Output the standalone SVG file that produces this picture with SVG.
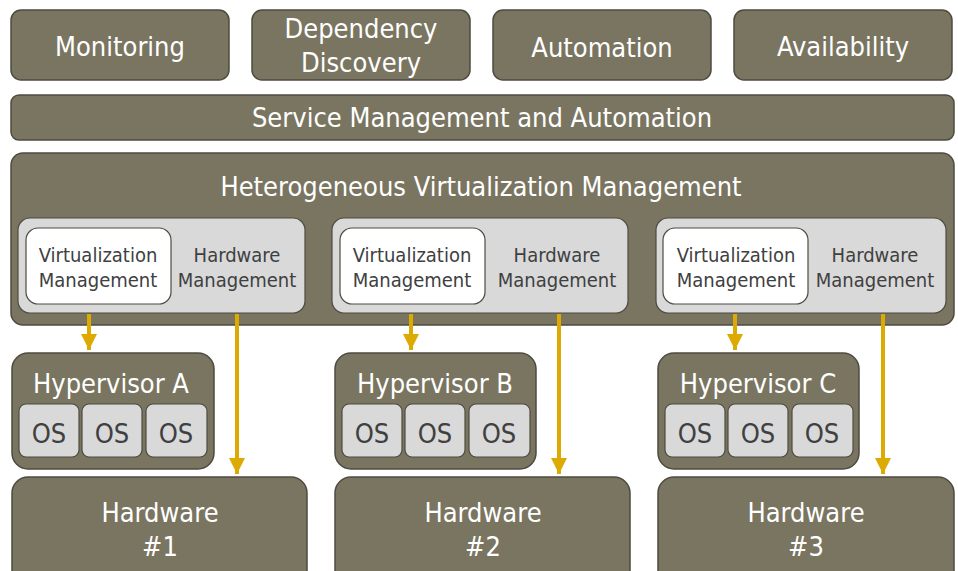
<svg xmlns="http://www.w3.org/2000/svg" width="958" height="571" viewBox="0 0 958 571">
<defs>
<style>
.box{fill:#7a7560;stroke:#4d4b40;stroke-width:1.5}
.grp{fill:#d9d9d9;stroke:#4d4b40;stroke-width:1.2}
.wht{fill:#ffffff;stroke:#4d4b40;stroke-width:1.2}
.os{fill:#d9d9d9;stroke:#4d4b40;stroke-width:1.2}
.t{font-family:"DejaVu Sans Condensed","DejaVu Sans",sans-serif;fill:#ffffff;text-anchor:middle;font-size:27px}
.d{font-family:"DejaVu Sans Condensed","DejaVu Sans",sans-serif;fill:#404040;text-anchor:middle;font-size:20px}
.o{font-family:"DejaVu Sans Condensed","DejaVu Sans",sans-serif;fill:#404040;text-anchor:middle;font-size:27px}
.c{stroke:#dcaa00;stroke-width:4;fill:none}
</style>
<marker id="ah" viewBox="0 0 10 10" refX="10" refY="5" markerWidth="4" markerHeight="4" markerUnits="strokeWidth" orient="auto">
<path d="M0,0 L10,5 L0,10 z" fill="#dcaa00"/>
</marker>
</defs>
<rect width="958" height="571" fill="#ffffff"/>

<g id="monitoring"><rect class="box" x="11" y="10" width="218" height="70" rx="10"/><text class="t" x="120" y="56">Monitoring</text></g>
<g id="dependency"><rect class="box" x="252" y="10" width="218" height="70" rx="10"/><text class="t" x="361" y="38">Dependency</text><text class="t" x="361" y="72">Discovery</text></g>
<g id="automation"><rect class="box" x="493" y="10" width="218" height="70" rx="10"/><text class="t" x="602" y="57">Automation</text></g>
<g id="availability"><rect class="box" x="734" y="10" width="218" height="70" rx="10"/><text class="t" x="843" y="56">Availability</text></g>

<g id="service"><rect class="box" x="11" y="95" width="943" height="45" rx="8"/><text class="t" x="482" y="127">Service Management and Automation</text></g>

<g id="hetero"><rect class="box" x="11" y="153" width="943" height="172" rx="12"/><text class="t" x="481" y="196">Heterogeneous Virtualization Management</text></g>

<g id="mgmt1"><rect class="grp" x="18" y="218" width="287" height="95" rx="12"/>
<rect class="wht" x="26" y="228" width="145" height="76" rx="12"/>
<text class="d" x="98" y="262">Virtualization</text><text class="d" x="98" y="287">Management</text>
<text class="d" x="237" y="262">Hardware</text><text class="d" x="237" y="287">Management</text></g>
<g id="mgmt2"><rect class="grp" x="332" y="218" width="296" height="95" rx="12"/>
<rect class="wht" x="340" y="228" width="145" height="76" rx="12"/>
<text class="d" x="412" y="262">Virtualization</text><text class="d" x="412" y="287">Management</text>
<text class="d" x="557" y="262">Hardware</text><text class="d" x="557" y="287">Management</text></g>
<g id="mgmt3"><rect class="grp" x="656" y="218" width="290" height="95" rx="12"/>
<rect class="wht" x="663" y="228" width="145" height="76" rx="12"/>
<text class="d" x="736" y="262">Virtualization</text><text class="d" x="736" y="287">Management</text>
<text class="d" x="875" y="262">Hardware</text><text class="d" x="875" y="287">Management</text></g>

<g id="hypA"><rect class="box" x="12" y="353" width="202" height="116" rx="16"/>
<text class="t" x="111" y="393">Hypervisor A</text>
<rect class="os" x="19" y="404" width="60" height="53" rx="7"/><text class="o" x="49" y="443">OS</text>
<rect class="os" x="82" y="404" width="60" height="53" rx="7"/><text class="o" x="112" y="443">OS</text>
<rect class="os" x="146" y="404" width="61" height="53" rx="7"/><text class="o" x="176" y="443">OS</text></g>
<g id="hypB"><rect class="box" x="335" y="353" width="201" height="116" rx="16"/>
<text class="t" x="435" y="393">Hypervisor B</text>
<rect class="os" x="342" y="404" width="60" height="53" rx="7"/><text class="o" x="372" y="443">OS</text>
<rect class="os" x="405" y="404" width="60" height="53" rx="7"/><text class="o" x="435" y="443">OS</text>
<rect class="os" x="469" y="404" width="61" height="53" rx="7"/><text class="o" x="499" y="443">OS</text></g>
<g id="hypC"><rect class="box" x="658" y="353" width="201" height="116" rx="16"/>
<text class="t" x="758" y="393">Hypervisor C</text>
<rect class="os" x="665" y="404" width="60" height="53" rx="7"/><text class="o" x="695" y="443">OS</text>
<rect class="os" x="728" y="404" width="60" height="53" rx="7"/><text class="o" x="758" y="443">OS</text>
<rect class="os" x="792" y="404" width="61" height="53" rx="7"/><text class="o" x="822" y="443">OS</text></g>

<g id="hw1"><rect class="box" x="12" y="477" width="295" height="110" rx="16"/><text class="t" x="160" y="522">Hardware</text><text class="t" x="160" y="556">#1</text></g>
<g id="hw2"><rect class="box" x="335" y="477" width="295" height="110" rx="16"/><text class="t" x="483" y="522">Hardware</text><text class="t" x="483" y="556">#2</text></g>
<g id="hw3"><rect class="box" x="658" y="477" width="296" height="110" rx="16"/><text class="t" x="806" y="522">Hardware</text><text class="t" x="806" y="556">#3</text></g>

<g id="connectors">
<line class="c" x1="89" y1="314" x2="89" y2="350" marker-end="url(#ah)"/>
<line class="c" x1="237" y1="314" x2="237" y2="474" marker-end="url(#ah)"/>
<line class="c" x1="411" y1="314" x2="411" y2="350" marker-end="url(#ah)"/>
<line class="c" x1="559" y1="314" x2="559" y2="474" marker-end="url(#ah)"/>
<line class="c" x1="735" y1="314" x2="735" y2="350" marker-end="url(#ah)"/>
<line class="c" x1="883" y1="314" x2="883" y2="474" marker-end="url(#ah)"/>
</g>
</svg>
